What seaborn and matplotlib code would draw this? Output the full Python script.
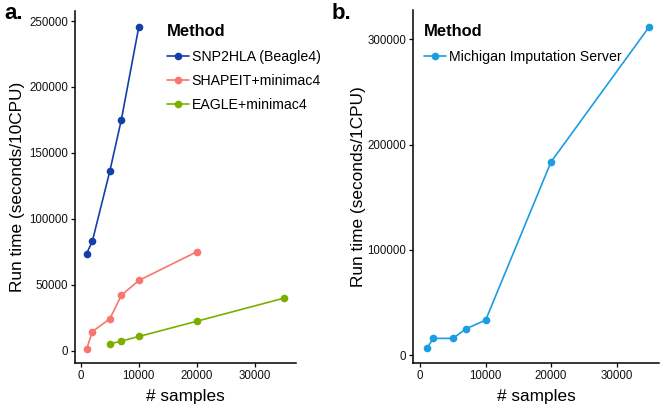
import pandas as pd
import matplotlib.pyplot as plt
import seaborn as sns

# ---------------------------------------------------------------------------
# Data
# ---------------------------------------------------------------------------

snp2hla_n    = [1000, 2000, 5000, 7000, 10000]
snp2hla_t    = [73500, 83000, 136000, 175300, 245700]
shapeit_n    = [1000, 2000, 5000, 7000, 10000, 20000]
shapeit_t    = [1000, 14400, 24100, 42000, 53200, 75000]
eagle_n      = [5000, 7000, 10000, 20000, 35000]
eagle_t      = [5100, 7200, 10700, 22300, 39800]
michigan_n   = [1000, 2000, 5000, 7000, 10000, 20000, 35000]
michigan_t   = [6400, 15900, 15900, 25000, 33300, 183700, 312000]

methods_a = ['SNP2HLA (Beagle4)', 'SHAPEIT+minimac4', 'EAGLE+minimac4']
colors_a  = ['#1340A6', '#F8766D', '#7CAE00']
methods_b = ['Michigan Imputation Server']
colors_b  = ['#1A9DE3']

df_a = pd.concat([
    pd.DataFrame({'n': snp2hla_n, 't': snp2hla_t, 'Method': methods_a[0]}),
    pd.DataFrame({'n': shapeit_n, 't': shapeit_t, 'Method': methods_a[1]}),
    pd.DataFrame({'n': eagle_n,   't': eagle_t,   'Method': methods_a[2]}),
])
df_b = pd.DataFrame({'n': michigan_n, 't': michigan_t, 'Method': methods_b[0]})

# ---------------------------------------------------------------------------
# Style
# ---------------------------------------------------------------------------

sns.set_style('ticks')
plt.rcParams['font.family'] = ['Liberation Sans', 'DejaVu Sans']
plt.rcParams['text.color'] = 'black'
plt.rcParams['axes.labelcolor'] = 'black'
plt.rcParams['axes.linewidth'] = 1.1
plt.rcParams['xtick.major.width'] = 0.9
plt.rcParams['ytick.major.width'] = 0.9
plt.rcParams['xtick.major.size'] = 3
plt.rcParams['ytick.major.size'] = 3

fig = plt.figure(figsize=(6.63, 4.08), dpi=100)
ax_a = fig.add_axes([0.113, 0.110, 0.333, 0.863])
ax_b = fig.add_axes([0.623, 0.110, 0.371, 0.865])


def draw(ax, df, methods, colors, ylabel, xlim, ylim, yticks, ypad):
    sns.lineplot(data=df, x='n', y='t', hue='Method', hue_order=methods,
                 palette=colors, marker='o', markersize=5.5, markeredgewidth=0,
                 linewidth=1.2, ax=ax)
    ax.set_xlim(*xlim)
    ax.set_ylim(*ylim)
    ax.set_xticks([0, 10000, 20000, 30000])
    ax.set_yticks(yticks)
    ax.set_yticklabels([str(v) for v in yticks])
    ax.tick_params(labelsize=8.3, pad=2, labelcolor='#111111', color='black')
    ax.set_xlabel('# samples', fontsize=12.4, labelpad=5)
    ax.set_ylabel(ylabel, fontsize=12.4, labelpad=ypad)
    sns.despine(ax=ax)
    for s in ['left', 'bottom']:
        ax.spines[s].set_color('black')


draw(ax_a, df_a, methods_a, colors_a, 'Run time (seconds/10CPU)',
     (-1000, 37000), (-9500, 257600), [0, 50000, 100000, 150000, 200000, 250000], 3)
draw(ax_b, df_b, methods_b, colors_b, 'Run time (seconds/1CPU)',
     (-1100, 36500), (-7600, 327800), [0, 100000, 200000, 300000], 1)

for ax, x0 in [(ax_a, 167 / 663), (ax_b, 424 / 663)]:
    leg = ax.legend(title='Method', loc='upper left', bbox_to_anchor=(x0, 0.94),
                    bbox_transform=fig.transFigure, borderpad=0, borderaxespad=0,
                    frameon=False, fontsize=10.2, title_fontsize=11.9,
                    handlelength=1.55, handletextpad=0.2, labelspacing=0.72)
    leg.get_title().set_fontweight('bold')
    leg.get_title().set_color('black')
    for t in leg.get_texts():
        t.set_color('black')
    leg._legend_box.align = 'left'

fig.text(0.006, 0.968, 'a.', fontsize=16, fontweight='bold', va='center')
fig.text(0.500, 0.968, 'b.', fontsize=16, fontweight='bold', va='center')

fig.savefig('out.png', dpi=100)
